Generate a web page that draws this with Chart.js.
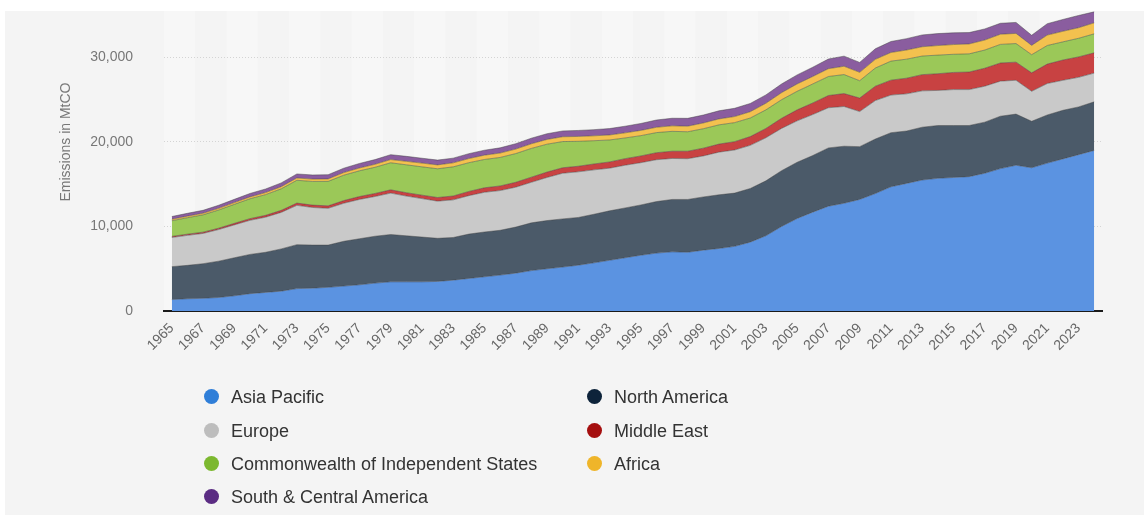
<!DOCTYPE html>
<html lang="en">
<head>
  <meta charset="UTF-8">
  <meta name="viewport" content="width=device-width, initial-scale=1.0">
  <title>CO2 emissions by region</title>
  <style>
    body {
      margin: 0;
      background: #fff;
      font-family: "Liberation Sans", Arial, sans-serif;
    }
    .panel {
      position: absolute;
      left: 5px;
      top: 11px;
      width: 1139px;
      height: 504px;
      background: #f4f4f4;
    }
    .chart-box {
      position: absolute;
      left: 0;
      top: 0;
      width: 1144px;
      height: 519px;
    }
    .legend-item {
      position: absolute;
      font-size: 18px;
      line-height: 20px;
      color: #333;
      white-space: nowrap;
    }
    .legend-item .dot {
      position: absolute;
      left: -27px;
      top: 2px;
      width: 15px;
      height: 15px;
      border-radius: 50%;
    }
  </style>
</head>
<body>
  <div class="panel"></div>
  <div class="chart-box">
    <canvas id="emissions-chart"></canvas>
  </div>
  <div id="legend"></div>

  <script src="https://cdn.jsdelivr.net/npm/chart.js"></script>
  <script>
    const years = [
      '1965','1966','1967','1968','1969','1970','1971','1972','1973','1974',
      '1975','1976','1977','1978','1979','1980','1981','1982','1983','1984',
      '1985','1986','1987','1988','1989','1990','1991','1992','1993','1994',
      '1995','1996','1997','1998','1999','2000','2001','2002','2003','2004',
      '2005','2006','2007','2008','2009','2010','2011','2012','2013','2014',
      '2015','2016','2017','2018','2019','2020','2021','2022','2023','2024'
    ];

    // emissions in MtCO
    const asiaPacific = [
      1350, 1450, 1500, 1600, 1800, 2050, 2200, 2350, 2650, 2700,
      2800, 2950, 3100, 3300, 3450, 3450, 3450, 3500, 3650, 3850,
      4050, 4250, 4480, 4780, 5000, 5200, 5420, 5700, 6000, 6300,
      6600, 6850, 7000, 6950, 7200, 7400, 7650, 8150, 8900, 10000,
      10950, 11700, 12400, 12750, 13200, 13900, 14700, 15100, 15500, 15700,
      15800, 15900, 16300, 16850, 17250, 16950, 17500, 18000, 18500, 19000
    ];
    const northAmerica = [
      3900, 3950, 4100, 4300, 4500, 4650, 4750, 5000, 5200, 5100,
      5000, 5300, 5450, 5550, 5600, 5450, 5300, 5100, 5050, 5250,
      5300, 5300, 5450, 5650, 5700, 5700, 5650, 5750, 5850, 5900,
      5950, 6100, 6200, 6250, 6300, 6350, 6300, 6350, 6500, 6600,
      6650, 6700, 6900, 6750, 6250, 6450, 6400, 6200, 6250, 6250,
      6150, 6050, 6050, 6200, 6050, 5500, 5700, 5750, 5650, 5750
    ];
    const europe = [
      3450, 3550, 3580, 3740, 3890, 4030, 4150, 4320, 4650, 4450,
      4350, 4500, 4650, 4700, 4900, 4700, 4550, 4400, 4450, 4550,
      4700, 4700, 4720, 4800, 5100, 5400, 5400, 5250, 5050, 5050,
      5000, 4950, 4850, 4820, 4850, 5050, 5100, 5100, 5100, 5000,
      4900, 4850, 4750, 4700, 4150, 4550, 4450, 4400, 4300, 4150,
      4250, 4250, 4250, 4150, 4000, 3550, 3720, 3550, 3500, 3400
    ];
    const middleEast = [
      130, 140, 150, 160, 180, 200, 220, 240, 270, 280,
      290, 320, 340, 360, 390, 400, 410, 430, 460, 500,
      530, 550, 580, 610, 640, 650, 660, 700, 740, 780,
      800, 830, 860, 890, 920, 950, 990, 1040, 1100, 1200,
      1300, 1370, 1450, 1530, 1600, 1700, 1770, 1850, 1920, 1980,
      2030, 2080, 2130, 2150, 2150, 2180, 2300, 2400, 2420, 2400
    ];
    const cis = [
      1850, 1950, 2050, 2150, 2250, 2350, 2450, 2550, 2700, 2800,
      2900, 3000, 3050, 3100, 3200, 3300, 3350, 3400, 3450, 3400,
      3350, 3370, 3400, 3400, 3300, 3100, 2950, 2750, 2600, 2450,
      2400, 2380, 2350, 2300, 2300, 2280, 2250, 2200, 2200, 2200,
      2200, 2250, 2250, 2250, 2050, 2150, 2250, 2250, 2200, 2200,
      2150, 2150, 2150, 2200, 2200, 2150, 2200, 2150, 2200, 2250
    ];
    const africa = [
      170, 180, 185, 195, 205, 220, 240, 250, 270, 280,
      290, 310, 330, 350, 380, 410, 440, 460, 470, 490,
      510, 520, 530, 550, 560, 570, 575, 580, 590, 600,
      620, 630, 650, 660, 680, 700, 720, 740, 780, 830,
      870, 880, 920, 980, 990, 1030, 1020, 1080, 1100, 1130,
      1150, 1170, 1180, 1200, 1200, 1100, 1230, 1250, 1250, 1300
    ];
    const southCentralAmerica = [
      330, 340, 350, 370, 390, 410, 430, 450, 480, 490,
      500, 520, 540, 560, 580, 590, 580, 570, 560, 580,
      590, 620, 640, 660, 680, 690, 710, 730, 760, 790,
      820, 860, 900, 930, 940, 960, 980, 980, 990, 1030,
      1070, 1100, 1150, 1200, 1180, 1250, 1300, 1350, 1400, 1420,
      1390, 1350, 1320, 1300, 1300, 1200, 1350, 1400, 1450, 1300
    ];

    const yTicks = [0, 10000, 20000, 30000];

    const series = [
      { name: 'Asia Pacific', data: asiaPacific, fill: '#5b93e1', dot: '#2f7ed8' },
      { name: 'North America', data: northAmerica, fill: '#4b5a69', dot: '#0d233a' },
      { name: 'Europe', data: europe, fill: '#c9c9c9', dot: '#bdbdbd' },
      { name: 'Middle East', data: middleEast, fill: '#c84242', dot: '#a50f0f' },
      { name: 'Commonwealth of Independent States', data: cis, fill: '#9bc858', dot: '#7cb82f' },
      { name: 'Africa', data: africa, fill: '#f3c14f', dot: '#efb52a' },
      { name: 'South & Central America', data: southCentralAmerica, fill: '#8a5d9f', dot: '#5b2c83' }
    ];

    // legend: two columns, filled row by row
    const legendOrder = [
      ['Asia Pacific', 231, 387], ['North America', 614, 387],
      ['Europe', 231, 421], ['Middle East', 614, 421],
      ['Commonwealth of Independent States', 231, 454], ['Africa', 614, 454],
      ['South & Central America', 231, 487]
    ];
    const legend = document.getElementById('legend');
    legendOrder.forEach(([name, left, top]) => {
      const s = series.find(d => d.name === name);
      const item = document.createElement('div');
      item.className = 'legend-item';
      item.style.left = left + 'px';
      item.style.top = top + 'px';
      item.innerHTML = '<span class="dot" style="background:' + s.dot + '"></span>' + name;
      legend.appendChild(item);
    });

    const stripes = {
      id: 'stripes',
      beforeDraw(chart) {
        const { ctx, chartArea, scales } = chart;
        const x = scales.x;
        const step = x.getPixelForValue(1) - x.getPixelForValue(0);
        ctx.save();
        ctx.fillStyle = 'rgba(255,255,255,0.3)';
        for (let i = 0; i < years.length; i += 4) {
          const left = x.getPixelForValue(i) - step * 0.5;
          ctx.fillRect(left, chartArea.top, step * 2, chartArea.bottom - chartArea.top);
        }
        ctx.restore();
      }
    };

    const yTitle = {
      id: 'yTitle',
      afterDraw(chart) {
        const ctx = chart.ctx;
        ctx.save();
        ctx.translate(66, 142);
        ctx.rotate(-Math.PI / 2);
        ctx.font = '14px "Liberation Sans", Arial, sans-serif';
        ctx.fillStyle = '#777';
        ctx.textAlign = 'center';
        ctx.textBaseline = 'middle';
        ctx.fillText('Emissions in MtCO', 0, 0);
        ctx.restore();
      }
    };

    const ctx = document.getElementById('emissions-chart').getContext('2d');
    new Chart(ctx, {
      type: 'line',
      data: {
        labels: years,
        datasets: series.map((s, i) => ({
          label: s.name,
          data: s.data,
          backgroundColor: s.fill,
          borderColor: 'rgba(60,60,60,0.45)',
          borderWidth: 1,
          fill: i === 0 ? 'origin' : '-1',
          pointRadius: 0,
          tension: 0
        }))
      },
      options: {
        responsive: true,
        maintainAspectRatio: false,
        animation: false,
        layout: { padding: { left: 0, right: 42, top: 11, bottom: 148 } },
        plugins: {
          legend: { display: false },
          tooltip: { enabled: false }
        },
        scales: {
          x: {
            offset: true,
            grid: { display: false },
            border: { display: true, color: '#1a1a1a', width: 2 },
            afterFit(scale) {
              scale.height = 60;
              scale.paddingLeft = 0;
              scale.paddingRight = 0;
            },
            ticks: {
              autoSkip: false,
              maxRotation: 45,
              minRotation: 45,
              padding: 1,
              color: '#666',
              font: { family: '"Liberation Sans", Arial, sans-serif', size: 14 },
              callback(value, index) {
                return index % 2 === 0 ? this.getLabelForValue(value) : null;
              }
            }
          },
          y: {
            stacked: true,
            min: 0,
            max: 35500,
            afterFit(scale) {
              scale.width = 164;
              scale.paddingTop = 0;
              scale.paddingBottom = 0;
            },
            afterBuildTicks(scale) { scale.ticks = yTicks.map(v => ({ value: v })); },
            grid: { color: '#d4d4d4', drawTicks: false },
            border: { display: false, dash: [1, 2] },
            ticks: {
              padding: 31,
              color: '#777',
              font: { family: '"Liberation Sans", Arial, sans-serif', size: 14 },
              callback: v => v.toLocaleString('en-US')
            }
          }
        }
      },
      plugins: [stripes, yTitle]
    });
  </script>
</body>
</html>
